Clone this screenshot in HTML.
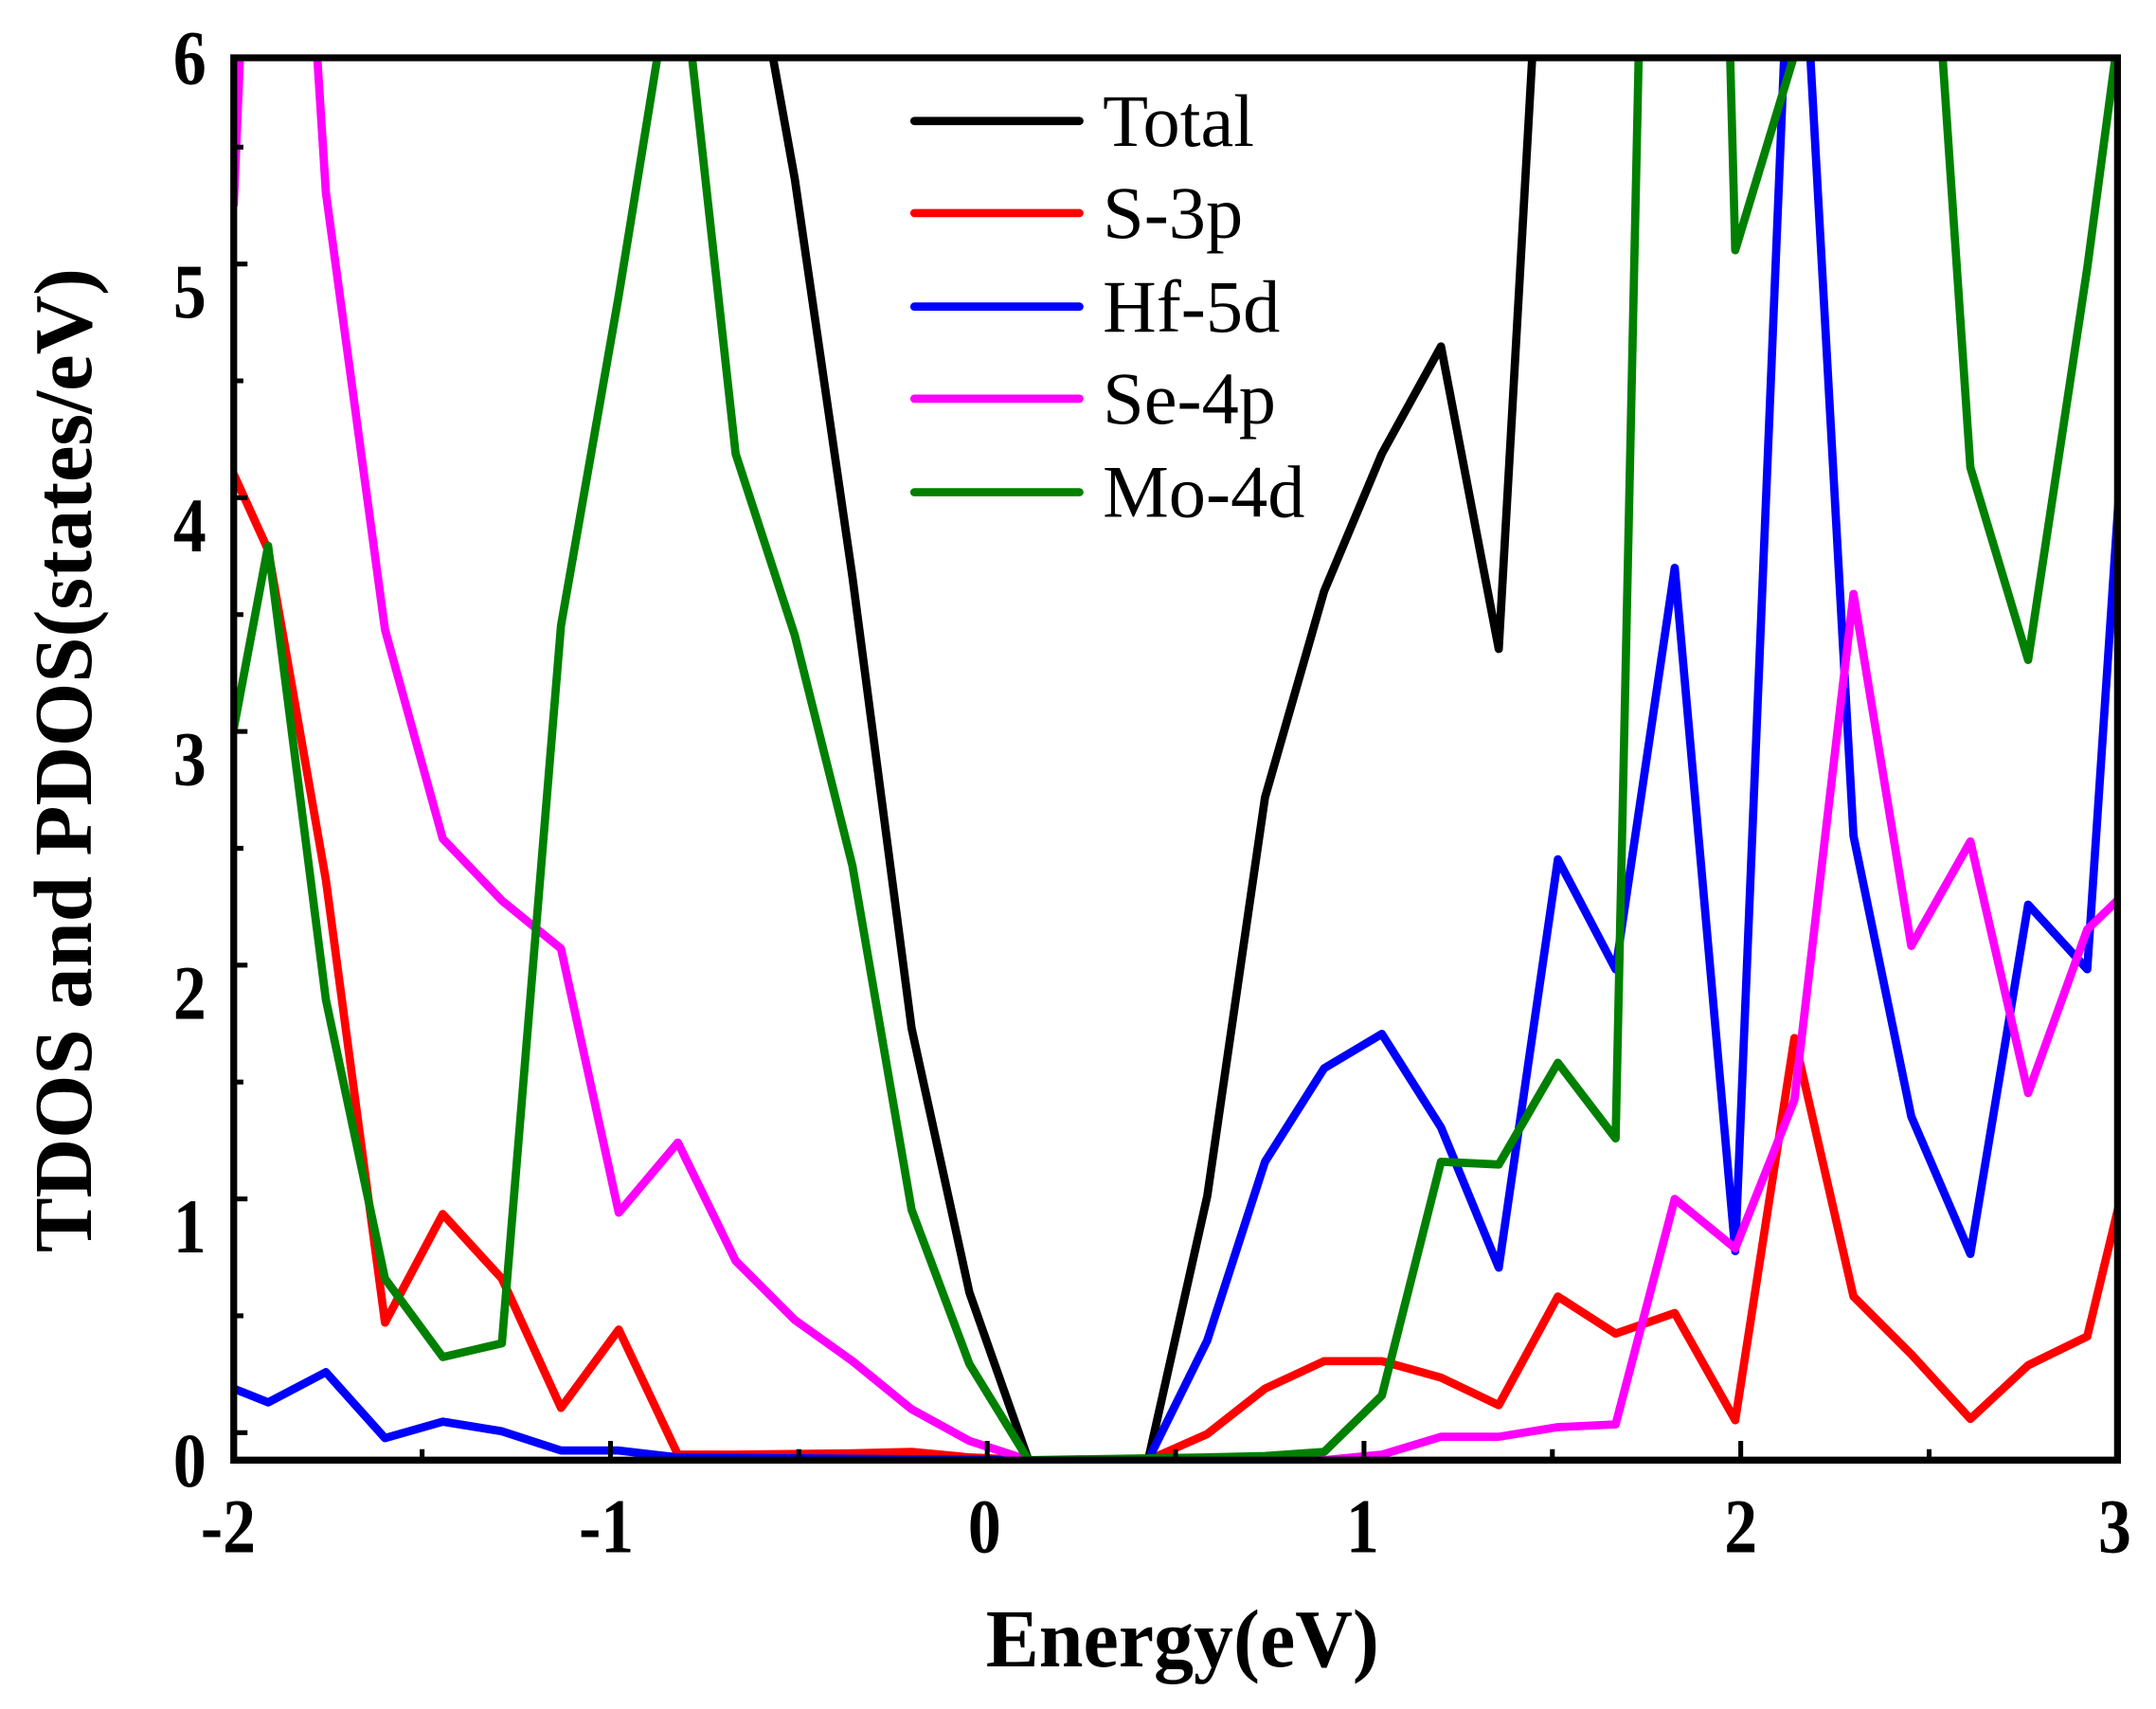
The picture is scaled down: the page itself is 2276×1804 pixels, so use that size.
<!DOCTYPE html>
<html><head><meta charset="utf-8"><style>
html,body{margin:0;padding:0;background:#fff;}
svg{display:block;}
text{font-family:"Liberation Serif",serif;}
</style></head><body>
<svg width="2276" height="1804" viewBox="0 0 1568 1243" preserveAspectRatio="none" xmlns="http://www.w3.org/2000/svg">
<defs><clipPath id="c"><rect x="170" y="42" width="1370" height="1020"/></clipPath></defs>
<g clip-path="url(#c)" fill="none" stroke-width="6" stroke-linejoin="round">
<polyline stroke="#000" points="560,30 578,130 620,420 663,748 705,940 748,1062 835,1062 878,870 920,580 963,430 1005,330 1048,252 1090,472 1115,30"/>
<polyline stroke="#ff0000" points="170,345 195,400 237,640 280,962 322,883 365,930 408,1024 450,967 493,1058 535,1058 620,1057 663,1056 705,1060 748,1062 835,1062 878,1043 920,1010 963,990 1005,990 1048,1002 1090,1022 1133,943 1175,970 1218,955 1262,1033 1305,755 1348,943 1390,985 1433,1032 1475,993 1518,972 1545,860"/>
<polyline stroke="#0000ff" points="170,1010 195,1020 237,998 280,1046 322,1034 365,1041 408,1055 450,1055 493,1060 748,1062 835,1062 878,975 920,845 963,777 1005,752 1048,820 1090,922 1133,625 1175,705 1218,413 1262,910 1298,30 1316,30 1348,608 1390,812 1433,912 1475,658 1518,705 1545,300"/>
<polyline stroke="#ff00ff" points="170,150 175,30 230,30 237,140 280,458 322,610 365,655 408,690 450,882 493,831 535,917 578,960 620,990 663,1025 705,1048 748,1062 963,1062 1005,1058 1048,1045 1090,1045 1133,1038 1175,1036 1218,872 1262,908 1305,800 1348,432 1390,688 1433,612 1475,795 1518,676 1545,650"/>
<polyline stroke="#008000" points="170,530 195,397 237,727 280,930 322,987 365,977 408,455 450,215 480,30 502,30 535,330 578,462 620,630 663,880 705,992 748,1062 878,1060 920,1059 963,1056 1005,1015 1048,845 1090,847 1133,773 1175,828 1192,30 1258,30 1262,182 1308,30 1412,30 1433,340 1475,480 1518,195 1540,30"/>
</g>
<g stroke="#000" stroke-width="3.5" fill="none">
<path d="M170,42 V1062 H1540 V42 Z" stroke-width="5"/>
<path d="M170,1042 H180 M170,957 H177 M170,872 H180 M170,787 H177 M170,702 H180 M170,617 H177 M170,532 H180 M170,447 H177 M170,362 H180 M170,277 H177 M170,192 H180 M170,107 H177"/>
<path d="M307,1062 V1054 M444,1062 V1048 M581,1062 V1054 M718,1062 V1048 M855,1062 V1054 M992,1062 V1048 M1129,1062 V1054 M1266,1062 V1048 M1403,1062 V1054"/>
</g>
<g font-size="56" font-weight="bold" text-anchor="end">
<text x="150" y="1081" textLength="24" lengthAdjust="spacingAndGlyphs">0</text><text x="150" y="911" textLength="24" lengthAdjust="spacingAndGlyphs">1</text><text x="150" y="741" textLength="24" lengthAdjust="spacingAndGlyphs">2</text>
<text x="150" y="571" textLength="24" lengthAdjust="spacingAndGlyphs">3</text><text x="150" y="401" textLength="24" lengthAdjust="spacingAndGlyphs">4</text><text x="150" y="231" textLength="24" lengthAdjust="spacingAndGlyphs">5</text><text x="150" y="61" textLength="24" lengthAdjust="spacingAndGlyphs">6</text>
</g>
<g font-size="56" font-weight="bold" text-anchor="middle">
<text x="166" y="1129" textLength="40" lengthAdjust="spacingAndGlyphs">-2</text><text x="441" y="1129" textLength="40" lengthAdjust="spacingAndGlyphs">-1</text><text x="716" y="1129" textLength="24" lengthAdjust="spacingAndGlyphs">0</text>
<text x="991" y="1129" textLength="24" lengthAdjust="spacingAndGlyphs">1</text><text x="1266" y="1129" textLength="24" lengthAdjust="spacingAndGlyphs">2</text><text x="1538" y="1129" textLength="24" lengthAdjust="spacingAndGlyphs">3</text>
</g>
<text x="860" y="1212" font-size="60" font-weight="bold" text-anchor="middle" textLength="286" lengthAdjust="spacingAndGlyphs">Energy(eV)</text>
<text transform="translate(66,553) rotate(-90)" font-size="60" font-weight="bold" text-anchor="middle" textLength="716" lengthAdjust="spacingAndGlyphs">TDOS and PDOS(states/eV)</text>
<g stroke-width="6" stroke-linecap="round">
<line x1="665" y1="88" x2="785" y2="88" stroke="#000"/>
<line x1="665" y1="155" x2="785" y2="155" stroke="#ff0000"/>
<line x1="665" y1="223" x2="785" y2="223" stroke="#0000ff"/>
<line x1="665" y1="290" x2="785" y2="290" stroke="#ff00ff"/>
<line x1="665" y1="358" x2="785" y2="358" stroke="#008000"/>
</g>
<g font-size="54">
<text x="802" y="106">Total</text><text x="802" y="173">S-3p</text><text x="802" y="241">Hf-5d</text>
<text x="802" y="308">Se-4p</text><text x="802" y="376">Mo-4d</text>
</g>
</svg>
</body></html>
